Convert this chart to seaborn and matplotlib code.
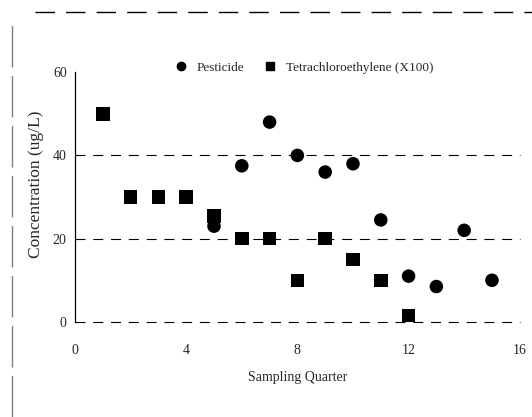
import matplotlib
matplotlib.use("Agg")
import matplotlib.pyplot as plt
import seaborn as sns
import pandas as pd
from matplotlib.lines import Line2D

# Data
pest_x = [5, 6, 7, 8, 9, 10, 11, 12, 13, 14, 15]
pest_y = [23, 37.5, 48, 40, 36, 38, 24.5, 11, 8.5, 22, 10]
tetra_x = [1, 2, 3, 4, 5, 6, 7, 8, 9, 10, 11, 12]
tetra_y = [50, 30, 30, 30, 25.5, 20, 20, 10, 20, 15, 10, 1.5]
series_names = ["Pesticide", "Tetrachloroethylene (X100)"]
x_ticks = [0, 4, 8, 12, 16]
y_ticks = [0, 20, 40, 60]

df = pd.concat([
    pd.DataFrame({"Quarter": pest_x, "Conc": pest_y, "Series": series_names[0]}),
    pd.DataFrame({"Quarter": tetra_x, "Conc": tetra_y, "Series": series_names[1]}),
], ignore_index=True)

sns.set_style("white")
plt.rcParams["font.family"] = ["Liberation Serif", "DejaVu Serif"]

fig = plt.figure(figsize=(5.32, 4.17), dpi=100)
ax = fig.add_axes([0.141, 0.228, 0.836, 0.599])

# grid lines
for yv in [0, 20, 40]:
    ax.axhline(yv, color="black", lw=0.8, ls=(0, (9, 7)), zorder=1, clip_on=False)

sns.scatterplot(data=df, x="Quarter", y="Conc", hue="Series", style="Series",
                palette=["black", "black"], markers={series_names[0]: "o", series_names[1]: "s"},
                s=95, edgecolor="black", linewidth=0, ax=ax, zorder=3, clip_on=False,
                legend=False)

ax.set_xlim(0, 16)
ax.set_ylim(0, 60)
ax.set_xticks(x_ticks)
ax.set_yticks(y_ticks)
ax.tick_params(axis="x", length=0, pad=16, labelsize=10)
ax.tick_params(axis="y", length=0, pad=6, labelsize=10)
for s in ["top", "right", "bottom"]:
    ax.spines[s].set_visible(False)
ax.spines["left"].set_color("black")
ax.spines["left"].set_linewidth(0.9)
ax.spines["left"].set_bounds(0, 60)
ax.set_xlabel("Sampling Quarter", fontsize=10, labelpad=10)
ax.set_ylabel("Concentration (ug/L)", fontsize=12.5, labelpad=6)
ax.yaxis.set_label_coords(-0.07, 0.55)

handles = [Line2D([], [], marker="o", color="black", ls="", markersize=6),
           Line2D([], [], marker="s", color="black", ls="", markersize=6)]
fig.legend(handles, series_names, loc="center", bbox_to_anchor=(0.565, 0.838), ncol=2,
           frameon=False, fontsize=9.5, handletextpad=0.2, columnspacing=1.0)

# scan border remnants
fig.add_artist(Line2D([0.065, 1.0], [0.972, 0.972], color="black", lw=1.0, ls=(0, (14, 8)),
                      transform=fig.transFigure))
fig.add_artist(Line2D([0.022, 0.022], [0.0, 0.96], color="grey", lw=1.0, ls=(0, (30, 6)),
                      transform=fig.transFigure))

fig.savefig("out.png", dpi=100)
